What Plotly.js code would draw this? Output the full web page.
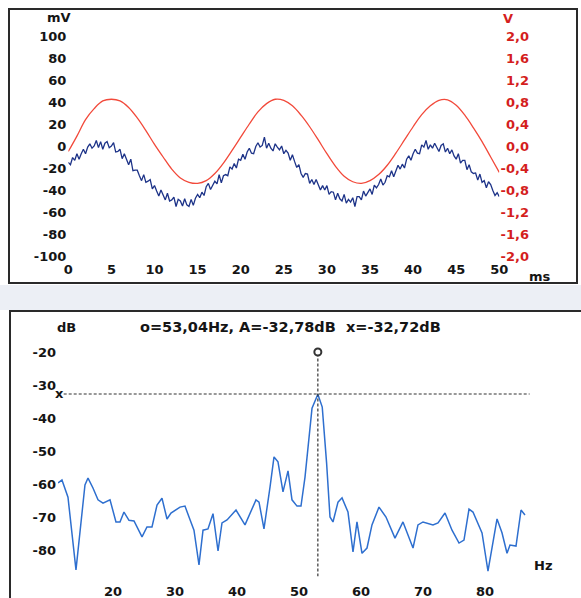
<!DOCTYPE html>
<html>
<head>
<meta charset="utf-8">
<script src="https://cdn.plot.ly/plotly-3.0.1.min.js"></script>
<style>
  html, body { margin: 0; padding: 0; background: #ffffff; }
  #chart { width: 581px; height: 598px; }
</style>
</head>
<body>
<div id="chart"></div>
<script>
// ---------- DATA ----------
// Top panel: time axis ticks (ms)
const msTicks = [0, 5, 10, 15, 20, 25, 30, 35, 40, 45, 50];
// Left axis (mV) ticks
const mvTicks = [-100, -80, -60, -40, -20, 0, 20, 40, 60, 80, 100];
// Right axis (V) ticks
const vTicks = [-2.0, -1.6, -1.2, -0.8, -0.4, 0.0, 0.4, 0.8, 1.2, 1.6, 2.0];

// Red signal (V, right axis), sampled every 1 ms
const redTimeMs = [0,1,2,3,4,5,6,7,8,9,10,11,12,13,14,15,16,17,18,19,20,21,22,23,24,25,26,27,28,29,30,31,32,33,34,35,36,37,38,39,40,41,42,43,44,45,46,47,48,49,50];
const redVolts = [-0.10,0.18,0.48,0.68,0.82,0.85,0.82,0.70,0.51,0.28,0.03,-0.20,-0.42,-0.58,-0.66,-0.68,-0.63,-0.50,-0.31,-0.08,0.16,0.40,0.62,0.77,0.85,0.83,0.73,0.56,0.35,0.11,-0.14,-0.37,-0.55,-0.65,-0.68,-0.63,-0.52,-0.35,-0.13,0.11,0.35,0.57,0.73,0.83,0.84,0.74,0.56,0.33,0.08,-0.20,-0.48];

// Blue noisy signal (mV, left axis), sampled every 0.25 ms from 0 to 50 ms
const blueStepMs = 0.25;
const blueMilliVolts = [
  -15,-17,-10.5,-13,-7,-12,-7,-3,-7,-1,2,-2,0,5,-1.5,4,-3,2.5,4,-1.5,
  0,3,-5.5,-5,-3,-11.5,-7,-11.5,-17,-12,-22.5,-22,-22,-27,-31.5,-26,-33,-32,-30.5,-39,
  -36,-41,-45.5,-40,-44,-49,-43,-50,-49,-46.5,-55,-48.5,-50,-54.5,-48,-53.5,-55,-48.5,-54,-47.5,
  -44,-47,-42,-45,-37,-34,-39.5,-36,-32,-34.5,-26,-33.5,-27,-26,-27,-19,-21,-16,-20,-12,
  -13,-7.5,-12,-5.5,-2,-6.5,-7,-0.5,3,-1,0.5,8,-2,2.5,-2,-4.5,2,-1,-3.5,0,
  -7,-4,-6.5,-13,-8,-14,-19.5,-17,-25,-28.5,-25,-25.5,-34,-30.5,-35,-30.5,-36,-40,-36,-40,
  -36,-44,-41.5,-42,-49,-43,-48,-50,-44,-52,-48.5,-51,-47,-55,-46,-46,-49,-41,-45.5,-42,
  -39,-44,-35.5,-38,-35,-30,-35.5,-33,-27,-28,-22.5,-28,-22,-17.5,-21,-16.5,-20,-12,-9,-13,
  -7,-3,-6.5,-7,1,-1,5,-3,1,-2,2.5,-2,-5,0.5,2,-5.5,-2,-7,-3.5,-9,
  -12,-7,-15.5,-13,-13,-21.5,-17,-23.5,-25,-24.5,-31,-25.5,-33,-31.5,-38,-32.5,-35,-40.5,-45,-42.5,
  -46
];

// Bottom panel: spectrum
const hzTicks = [20, 30, 40, 50, 60, 70, 80];
const dbTicks = [-20, -30, -40, -50, -60, -70, -80];
const specHz = [11.13,11.77,12.74,14.03,15.48,15.97,16.77,17.58,18.39,19.52,20.48,21.13,21.77,22.58,23.39,24.68,25.48,26.29,27.10,27.90,28.71,29.35,30.81,31.61,32.26,33.06,33.87,34.52,35.32,36.13,36.94,37.58,38.39,39.84,41.29,43.06,43.55,44.35,45.32,45.97,46.61,47.42,48.23,48.87,49.68,50.32,50.97,52.10,53.04,53.75,54.45,55.00,55.48,56.29,56.94,57.90,58.71,59.35,60.16,60.97,61.77,62.90,64.03,65.48,66.77,68.39,69.19,70.00,71.61,72.42,73.55,74.68,75.81,76.61,77.42,78.06,79.52,80.48,81.29,81.94,82.74,83.55,84.03,85.00,85.81,86.45];
const specDb = [-59.7,-58.8,-64,-86,-60.3,-58.2,-61.2,-64.8,-65.8,-64.8,-71.5,-71.5,-68.5,-71,-71.2,-76,-73,-73,-66.4,-64.3,-70.6,-68.8,-67,-66.7,-70,-74,-84.5,-74,-73.6,-69,-80.3,-71.8,-70.9,-67.9,-72.4,-64.8,-65.5,-73.6,-61,-51.8,-53.3,-62.4,-56,-64.8,-66.7,-66.7,-57.9,-37,-32.78,-36.7,-53.6,-70,-71.5,-65.5,-64.2,-68.5,-80.6,-71.5,-81,-79.4,-72.4,-67,-70,-76.4,-71.5,-79.4,-72.4,-71.5,-72.4,-71.8,-68.8,-74,-77.9,-77,-67.6,-68.5,-74.8,-86.4,-77.6,-70.6,-74.8,-81,-78.5,-78.8,-67.9,-69.4];

// Cursor readout
const cursorHz = 53.04;
const cursorA = -32.78;
const cursorX = -32.72;
const cursorMarkDb = -20;

// ---------- BUILD ----------
const W = 581, H = 598;
const px = v => v / W;
const py = v => 1 - v / H;
const comma = v => v.toFixed(2).replace('.', ',');

const blueTime = blueMilliVolts.map((_, i) => i * blueStepMs);
const mvTickText = mvTicks.map(v => String(v));
const vTickText = vTicks.map(v => v.toFixed(1).replace('.', ','));
const dbTickText = dbTicks.map(v => String(v));

const tickFont = { family: 'DejaVu Sans, Verdana, sans-serif', size: 13, color: '#151515', weight: 'bold' };
const redFont = Object.assign({}, tickFont, { color: '#d41e1e' });
const titleFont = Object.assign({}, tickFont, { size: 14.5 });

const traces = [
  { x: redTimeMs, y: redVolts, xaxis: 'x', yaxis: 'y2', mode: 'lines',
    line: { color: '#f2493a', width: 1.3, shape: 'spline', smoothing: 1 }, hoverinfo: 'skip' },
  { x: blueTime, y: blueMilliVolts, xaxis: 'x', yaxis: 'y', mode: 'lines',
    line: { color: '#1d3388', width: 1.3 }, hoverinfo: 'skip' },
  { x: specHz, y: specDb, xaxis: 'x2', yaxis: 'y3', mode: 'lines',
    line: { color: '#2e6fcf', width: 1.5 }, hoverinfo: 'skip' },
  { x: [cursorHz], y: [cursorMarkDb], xaxis: 'x2', yaxis: 'y3', mode: 'markers',
    marker: { symbol: 'circle-open', size: 7, color: '#333', line: { width: 2, color: '#333' } },
    hoverinfo: 'skip', cliponaxis: false }
];

const dash = { color: '#333', width: 1.2, dash: '3px,2px' };

const layout = {
  width: W, height: H,
  margin: { l: 0, r: 0, t: 0, b: 0, pad: 0 },
  paper_bgcolor: '#ffffff', plot_bgcolor: 'rgba(0,0,0,0)',
  showlegend: false, hovermode: false,
  xaxis: {
    domain: [px(68.3), px(499.3)], range: [0, 50], anchor: 'y',
    tickmode: 'array', tickvals: msTicks, ticktext: msTicks.map(String),
    showgrid: false, zeroline: false, showline: false, ticks: '',
    tickfont: tickFont, ticklabelstandoff: 4
  },
  yaxis: {
    domain: [py(256), py(36)], range: [-100, 100], anchor: 'x',
    tickmode: 'array', tickvals: mvTicks, ticktext: mvTickText,
    showgrid: false, zeroline: false, showline: false, ticks: '',
    tickfont: tickFont, ticklabelstandoff: 1
  },
  yaxis2: {
    overlaying: 'y', range: [-2, 2], anchor: 'free', position: px(529), side: 'left',
    tickmode: 'array', tickvals: vTicks, ticktext: vTickText,
    showgrid: false, zeroline: false, showline: false, ticks: '',
    tickfont: redFont
  },
  xaxis2: {
    domain: [px(58), px(532)], range: [11.13, 87.58], anchor: 'y3',
    tickmode: 'array', tickvals: hzTicks, ticktext: hzTicks.map(String),
    showgrid: false, zeroline: false, showline: false, ticks: '',
    tickfont: tickFont, ticklabelstandoff: 6
  },
  yaxis3: {
    domain: [py(576.4), py(338.8)], range: [-88, -16], anchor: 'x2',
    tickmode: 'array', tickvals: dbTicks, ticktext: dbTickText,
    showgrid: false, zeroline: false, showline: false, ticks: '',
    tickfont: tickFont, ticklabelstandoff: 1
  },
  shapes: [
    { type: 'rect', xref: 'paper', yref: 'paper', x0: 0, x1: 1, y0: py(310), y1: py(285),
      fillcolor: '#eceff5', line: { width: 0 }, layer: 'below' },
    { type: 'rect', xref: 'paper', yref: 'paper', x0: px(9), x1: px(577), y0: py(283), y1: py(9),
      line: { color: '#2a2a2a', width: 2 }, layer: 'above' },
    { type: 'rect', xref: 'paper', yref: 'paper', x0: px(10), x1: px(600), y0: py(620), y1: py(311),
      line: { color: '#2a2a2a', width: 2 }, layer: 'above' },
    { type: 'line', xref: 'x2 domain', yref: 'y3', x0: 0.012, x1: 0.995, y0: cursorX, y1: cursorX, line: dash },
    { type: 'line', xref: 'x2', yref: 'y3', x0: cursorHz, x1: cursorHz, y0: -88, y1: cursorMarkDb - 1.2, line: dash }
  ],
  annotations: [
    { text: 'mV', xref: 'paper', yref: 'paper', x: px(59), y: py(18), showarrow: false, font: tickFont, xanchor: 'center', yanchor: 'middle' },
    { text: 'V', xref: 'paper', yref: 'paper', x: px(508), y: py(19), showarrow: false, font: redFont, xanchor: 'center', yanchor: 'middle' },
    { text: 'ms', xref: 'paper', yref: 'paper', x: px(540), y: py(276), showarrow: false, font: tickFont, xanchor: 'center', yanchor: 'middle' },
    { text: 'dB', xref: 'paper', yref: 'paper', x: px(66), y: py(327), showarrow: false, font: tickFont, xanchor: 'center', yanchor: 'middle' },
    { text: 'Hz', xref: 'paper', yref: 'paper', x: px(543), y: py(565), showarrow: false, font: tickFont, xanchor: 'center', yanchor: 'middle' },
    { text: 'o=' + comma(cursorHz) + 'Hz, A=' + comma(cursorA) + 'dB\u00a0\u00a0x=' + comma(cursorX) + 'dB',
      xref: 'paper', yref: 'paper', x: px(290), y: py(327), showarrow: false, font: titleFont, xanchor: 'center', yanchor: 'middle' },
    { text: 'x', xref: 'x2 domain', yref: 'y3', x: 0.004, y: cursorX, showarrow: false, font: tickFont, xanchor: 'center', yanchor: 'middle' }
  ]
};

Plotly.newPlot('chart', traces, layout, { displayModeBar: false, staticPlot: true });
</script>
</body>
</html>
